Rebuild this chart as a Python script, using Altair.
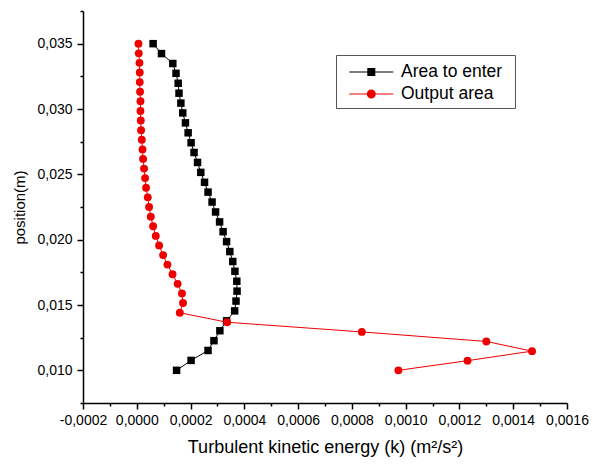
import altair as alt
import pandas as pd

series_names = ["Area to enter", "Output area"]
series_colors = ["#000000", "#ee0000"]

# Area to enter (black squares)
enter_pos = [0.03500, 0.03424, 0.03348, 0.03273, 0.03197, 0.03121, 0.03045, 0.02970,
             0.02894, 0.02818, 0.02742, 0.02667, 0.02591, 0.02515, 0.02439, 0.02364,
             0.02288, 0.02212, 0.02136, 0.02061, 0.01985, 0.01909, 0.01833, 0.01758,
             0.01682, 0.01606, 0.01530, 0.01455, 0.01379, 0.01303, 0.01227, 0.01152,
             0.01076, 0.01000]
enter_k = [0.0000607, 0.0000919, 0.000134, 0.000146, 0.000154, 0.000157, 0.000164, 0.000171,
           0.000181, 0.000191, 0.000202, 0.000213, 0.000226, 0.000238, 0.000252, 0.000265,
           0.000280, 0.000293, 0.000308, 0.000321, 0.000334, 0.000346, 0.000357, 0.000365,
           0.000372, 0.000373, 0.000369, 0.000364, 0.000334, 0.000309, 0.000287, 0.000265,
           0.000202, 0.000148]

# Output area (red circles)
output_pos = [0.03500, 0.03426, 0.03353, 0.03279, 0.03206, 0.03132, 0.03059, 0.02985,
              0.02912, 0.02838, 0.02765, 0.02691, 0.02618, 0.02544, 0.02471, 0.02397,
              0.02324, 0.02250, 0.02176, 0.02103, 0.02029, 0.01956, 0.01882, 0.01809,
              0.01735, 0.01662, 0.01588, 0.01515, 0.01441, 0.01368, 0.01294, 0.01221,
              0.01147, 0.01074, 0.01000]
output_k = [0.0000063, 0.0000074, 0.0000100, 0.0000111, 0.0000111, 0.0000122, 0.0000137, 0.0000137,
            0.0000149, 0.0000160, 0.0000186, 0.0000212, 0.0000234, 0.0000271, 0.0000309, 0.0000346,
            0.0000409, 0.0000458, 0.0000521, 0.0000607, 0.0000707, 0.0000830, 0.0000979, 0.000114,
            0.000133, 0.000152, 0.000168, 0.000172, 0.000160, 0.000336, 0.000837, 0.00130,
            0.00147, 0.00123, 0.000973]

x_major = [-0.0002, 0.0, 0.0002, 0.0004, 0.0006, 0.0008, 0.0010, 0.0012, 0.0014, 0.0016]
x_minor = [-0.0001, 0.0001, 0.0003, 0.0005, 0.0007, 0.0009, 0.0011, 0.0013, 0.0015]
y_major = [0.010, 0.015, 0.020, 0.025, 0.030, 0.035]
y_minor = [0.0075, 0.0125, 0.0175, 0.0225, 0.0275, 0.0325, 0.0375]

rows = []
for i, (p, k) in enumerate(zip(enter_pos, enter_k)):
    rows.append({"series": series_names[0], "pos": p, "k": k, "idx": i})
for i, (p, k) in enumerate(zip(output_pos, output_k)):
    rows.append({"series": series_names[1], "pos": p, "k": k, "idx": i})
df = pd.DataFrame(rows)

FONT = "Liberation Sans"
x_scale = alt.Scale(domain=[-0.0002, 0.0016], nice=False, zero=False)
y_scale = alt.Scale(domain=[0.0075, 0.0375], nice=False, zero=False)
color_scale = alt.Scale(domain=series_names, range=series_colors)

x_label_expr = "(datum.value < -1e-9 ? '-' : '') + replace(format(abs(datum.value), '.4f'), '.', ',')"
y_label_expr = "replace(format(datum.value, '.3f'), '.', ',')"

x_axis = alt.Axis(values=x_major, labelExpr=x_label_expr, orient="bottom",
                  title="Turbulent kinetic energy (k) (m²/s²)", titleFontSize=18,
                  titlePadding=11, labelFontSize=14, labelPadding=4, tickSize=6,
                  labelFlush=False, labelOverlap=False, domain=True)
y_axis = alt.Axis(values=y_major, labelExpr=y_label_expr, orient="left",
                  title="position(m)", titleFontSize=15, titlePadding=9,
                  labelFontSize=14, labelPadding=5, tickSize=6,
                  labelFlush=False, labelOverlap=False, domain=True)
x_axis_minor = alt.Axis(values=x_minor, labels=False, title=None, tickSize=3,
                        domain=False, orient="bottom")
y_axis_minor = alt.Axis(values=y_minor, labels=False, title=None, tickSize=3,
                        domain=False, orient="left")

base = alt.Chart(df)

# legend symbols: a line with the marker in its middle (unit = symbol radius)
line_part = "M-0.316,-0.051H3.443V0.051H-0.316Z"
sq_path = line_part + " M1.221,-0.342H1.905V0.342H1.221Z M13.35,0"
circ_path = line_part + " M1.947,0A0.384,0.384 0 1,1 1.179,0A0.384,0.384 0 1,1 1.947,0Z M13.35,0"

leg = alt.Legend(orient="none", legendX=253, legendY=44, title=None, padding=5,
                 strokeColor="#555555", fillColor="white", labelFont=FONT,
                 labelFontSize=17.5, labelColor="black", symbolSize=548,
                 labelOffset=36, rowPadding=1, symbolStrokeWidth=0,
                 symbolOpacity=1, labelLimit=400)

lines = base.mark_line(strokeWidth=1).encode(
    x=alt.X("k:Q", scale=x_scale, axis=x_axis),
    y=alt.Y("pos:Q", scale=y_scale, axis=y_axis),
    color=alt.Color("series:N", scale=color_scale, legend=leg),
    detail="series:N",
    order=alt.Order("idx:Q"),
)

# invisible layer carrying the legend symbols (line + marker)
legend_layer = base.mark_point(filled=True, opacity=0).encode(
    x=alt.X("k:Q", scale=x_scale, axis=None),
    y=alt.Y("pos:Q", scale=y_scale, axis=None),
    color=alt.Color("series:N", scale=color_scale, legend=leg),
    shape=alt.Shape("series:N", scale=alt.Scale(domain=series_names, range=[sq_path, circ_path]),
                    legend=leg),
)

squares = base.transform_filter(alt.datum.series == series_names[0]).mark_square(
    size=56, color=series_colors[0], opacity=1
).encode(
    x=alt.X("k:Q", scale=x_scale, axis=x_axis_minor),
    y=alt.Y("pos:Q", scale=y_scale, axis=y_axis_minor),
)

circles = base.transform_filter(alt.datum.series == series_names[1]).mark_circle(
    size=62, color=series_colors[1], opacity=1
).encode(
    x=alt.X("k:Q", scale=x_scale, axis=None),
    y=alt.Y("pos:Q", scale=y_scale, axis=None),
)

chart = alt.layer(lines, legend_layer, squares, circles).resolve_axis(
    x="independent", y="independent"
).properties(
    width=484, height=392,
    autosize=alt.AutoSizeParams(type="none"),
    padding={"left": 83, "top": 11, "right": 26, "bottom": 61},
).configure_view(stroke=None).configure_axis(
    grid=False, domainColor="black", tickColor="black", labelColor="black",
    titleColor="black", labelFont=FONT, titleFont=FONT, titleFontWeight="normal",
    domainWidth=1.5, tickWidth=1.5,
)

chart.save("out.html", embed_options={"renderer": "svg", "actions": False})
